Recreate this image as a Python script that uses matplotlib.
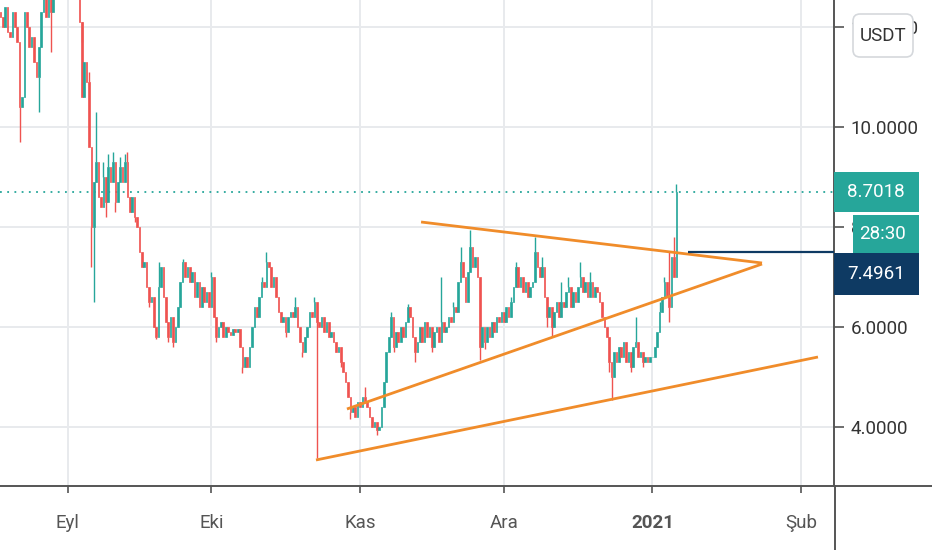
import numpy as np
import pandas as pd
import matplotlib
matplotlib.use('Agg')
import matplotlib.pyplot as plt
import matplotlib.dates as mdates
from matplotlib import font_manager
from matplotlib.patches import FancyBboxPatch, Rectangle
from matplotlib.lines import Line2D
from matplotlib.transforms import IdentityTransform

# 12h candles starting 18 Aug 2020
start = '2020-08-18'
first_open = 12.3
closes = [
    12.2, 12.0, 12.4, 11.9, 11.8, 12.3, 12.0, 11.7, 10.4, 10.6,
    12.3, 12.0, 11.6, 11.8, 11.3, 11.0, 11.6, 12.3, 12.7, 12.2,
    12.8, 12.3, 12.9, 13.3, 13.6, 13.9, 13.5, 14.0, 13.7, 13.4,
    13.8, 13.5, 13.2, 12.1, 10.6, 11.3, 10.9, 9.6, 8.0, 8.9,
    9.3, 8.6, 8.4, 9.0, 8.5, 9.2, 8.9, 9.3, 8.5, 8.9,
    9.2, 8.9, 9.3, 8.6, 8.3, 8.6, 8.2, 8.0, 7.5, 7.2,
    7.3, 6.8, 6.5, 6.6, 6.0, 5.8, 6.8, 7.2, 6.6, 6.1,
    5.8, 6.2, 5.7, 6.0, 6.4, 6.9, 7.3, 7.0, 7.2, 6.9,
    7.1, 6.6, 6.9, 6.4, 6.8, 6.5, 6.7, 6.4, 7.0, 6.2,
    5.8, 6.0, 6.1, 5.8, 6.0, 5.9, 5.85, 5.95, 5.9, 5.95,
    5.6, 5.2, 5.4, 5.2, 5.6, 6.0, 6.4, 6.2, 6.6, 6.9,
    6.8, 7.3, 7.2, 6.8, 7.0, 6.6, 6.3, 6.1, 6.2, 5.9,
    6.2, 6.3, 6.2, 6.4, 6.0, 5.7, 5.5, 5.8, 6.0, 6.3,
    6.2, 6.5, 6.1, 6.0, 6.2, 5.9, 6.1, 5.8, 5.9, 5.7,
    5.5, 5.6, 5.3, 5.1, 4.9, 4.6, 4.3, 4.4, 4.2, 4.5,
    4.4, 4.6, 4.5, 4.4, 4.2, 4.0, 4.1, 3.95, 4.0, 4.4,
    4.9, 5.5, 5.8, 6.2, 5.6, 5.9, 5.7, 6.0, 5.8, 6.1,
    6.4, 6.2, 5.8, 5.5, 5.7, 6.0, 5.7, 6.1, 5.8, 6.0,
    5.6, 5.9, 6.0, 5.7, 6.1, 5.9, 6.0, 6.2, 6.1, 6.4,
    6.3, 6.9, 7.3, 7.0, 6.5, 7.1, 7.6, 7.2, 7.4, 7.0,
    5.6, 6.0, 5.7, 6.0, 5.8, 6.1, 5.9, 6.2, 6.1, 6.3,
    6.1, 6.4, 6.2, 6.5, 6.8, 7.2, 6.8, 7.0, 6.7, 6.9,
    6.6, 6.8, 6.9, 7.5, 7.2, 7.0, 7.2, 6.6, 6.2, 6.4,
    6.0, 6.3, 6.5, 6.2, 6.5, 6.4, 6.7, 6.8, 6.4, 6.7,
    6.5, 6.8, 7.0, 6.7, 6.9, 6.6, 6.9, 6.6, 6.8, 6.7,
    6.5, 6.2, 6.0, 5.8, 5.3, 5.0, 5.5, 5.3, 5.6, 5.4,
    5.7, 5.3, 5.5, 5.2, 5.6, 5.7, 5.4, 5.5, 5.3, 5.4,
    5.3, 5.4, 5.4, 5.6, 5.9, 6.3, 6.6, 6.9, 6.6, 6.4,
    7.4, 7.0, 8.7018,
]
# visible wicks (candle index -> price)
wick_high = {34: 11.7, 37: 11.1, 40: 10.3, 43: 9.3, 45: 9.45, 47: 9.5, 50: 9.4,
             52: 9.45, 53: 9.5, 66: 7.3, 76: 7.35, 88: 7.1, 109: 7.0, 111: 7.5,
             123: 6.6, 131: 6.6, 152: 4.8, 163: 6.3, 170: 6.45, 184: 7.0, 189: 6.5,
             192: 7.6, 196: 7.94, 213: 6.6, 215: 7.3, 223: 7.8, 226: 7.4, 234: 6.9,
             237: 7.0, 242: 7.3, 246: 7.1, 265: 6.2, 275: 6.5, 277: 7.0, 279: 7.5,
             281: 7.8, 282: 8.85}
wick_low = {8: 9.7, 16: 10.3, 21: 11.5, 38: 7.2, 39: 6.5, 44: 8.2, 48: 8.3, 56: 8.1,
            62: 6.4, 65: 5.75, 70: 5.7, 72: 5.6, 90: 5.7, 101: 5.08, 119: 5.8,
            126: 5.4, 132: 3.38, 142: 5.2, 146: 4.15, 157: 3.84, 164: 5.5, 173: 5.3,
            180: 5.5, 200: 5.34, 202: 5.55, 228: 6.0, 230: 5.8, 254: 5.1, 255: 4.54,
            263: 5.1, 268: 5.2, 279: 6.1}

# drawn trend lines
trend_start = ['2020-11-13 18:00', '2020-10-29 07:00', '2020-10-22 20:00']
trend_start_price = [8.10, 4.36, 3.34]
trend_end = ['2021-01-23 21:00', '2021-01-23 21:00', '2021-02-04 13:00']
trend_end_price = [7.28, 7.26, 5.40]

last_price = 8.7018
ray_price = 7.4961
ray_start = '2021-01-08 10:00'
countdown = '28:30'

month_dates = ['2020-09-01', '2020-10-01', '2020-11-01', '2020-12-01', '2021-01-01', '2021-02-01']
month_labels = ['Eyl', 'Eki', 'Kas', 'Ara', '2021', 'Şub']
price_ticks = [4, 6, 8, 10, 12]

UP = '#26a69a'
DOWN = '#ef5350'
ORANGE = '#f08c2a'
NAVY = '#0e3a63'
W, H = 932, 550

try:
    font_manager.findfont('Liberation Sans Narrow', fallback_to_default=False)
    FONT, FS = 'Liberation Sans Narrow', 16.5
except ValueError:
    FONT, FS = 'Roboto', 13.5
plt.rcParams['font.family'] = [FONT, 'DejaVu Sans']

fig = plt.figure(figsize=(W / 100, H / 100), dpi=100)
ax = fig.add_axes([0, 64 / H, 834 / W, 486 / H])

# candles
t = mdates.date2num(pd.date_range(start, periods=len(closes), freq='12h'))
c = np.array(closes)
o = np.r_[first_open, c[:-1]]
col = np.where(c >= o, UP, DOWN)
lo_b = np.minimum(o, c)
hi_b = np.maximum(o, c)
ax.bar(t, hi_b - lo_b, bottom=lo_b, width=0.34, color=col, edgecolor=col,
       linewidth=0.5, zorder=3)
hi_i = list(wick_high)
ax.vlines(t[hi_i], hi_b[hi_i], [wick_high[i] for i in hi_i], colors=col[hi_i], lw=1, zorder=3)
lo_i = list(wick_low)
ax.vlines(t[lo_i], [wick_low[i] for i in lo_i], lo_b[lo_i], colors=col[lo_i], lw=1, zorder=3)

# trend lines
for x0, y0, x1, y1 in zip(trend_start, trend_start_price, trend_end, trend_end_price):
    ax.plot(mdates.date2num(pd.to_datetime([x0, x1])), [y0, y1], color=ORANGE, lw=2,
            solid_capstyle='butt', zorder=4)

left = mdates.date2num(pd.Timestamp('2020-09-01')) - 67.5 / 4.794
right = mdates.date2num(pd.Timestamp('2021-02-01')) + 33 / 4.794
ax.set_xlim(left, right)
ax.set_ylim(2.82, 12.54)

ax.axhline(last_price, color=UP, lw=1.3, ls=(0, (1, 3)), zorder=2)
ax.hlines(ray_price, mdates.date2num(pd.Timestamp(ray_start)), right, color=NAVY, lw=1.6, zorder=4)

# axes look
ax.set_xticks(mdates.date2num(pd.to_datetime(month_dates)))
ax.set_xticklabels(month_labels)
ax.get_xticklabels()[4].set_fontweight('bold')
ax.get_xticklabels()[4].set_color('#333333')
ax.tick_params(axis='x', length=5, width=1.2, color='#555555', pad=15,
               labelsize=FS, labelcolor='#555555')
ax.yaxis.tick_right()
ax.set_yticks(price_ticks)
ax.set_yticklabels([f'{v:.4f}' for v in price_ticks])
ax.tick_params(axis='y', length=7, width=1.2, color='#555555', pad=5,
               labelsize=FS, labelcolor='#333333')
ax.grid(color='#e8eaed', lw=1.4, zorder=0)
ax.set_axisbelow(True)
for side in ['top', 'left']:
    ax.spines[side].set_visible(False)
for side in ['right', 'bottom']:
    ax.spines[side].set_color('#555555')
    ax.spines[side].set_linewidth(1.4)

pix = IdentityTransform()
fig.add_artist(Line2D([834, W], [64, 64], transform=pix, color='#555555', lw=1.4))
fig.add_artist(Line2D([834.5, 834.5], [0, 64], transform=pix, color='#555555', lw=1.4))

# price labels on the right scale
def box(x0, y0, x1, y1, color):
    fig.add_artist(Rectangle((x0, H - y1), x1 - x0, y1 - y0, transform=pix,
                             facecolor=color, edgecolor='none', zorder=5))

box(834, 172, 919, 212, UP)
fig.text(847, H - 192, f'{last_price:.4f}', transform=pix, color='white', fontsize=FS,
         va='center', ha='left', zorder=6)
box(853, 215, 919, 253, UP)
fig.text(859, H - 234, countdown, transform=pix, color='white', fontsize=FS,
         va='center', ha='left', zorder=6)
box(834, 253, 919, 295, NAVY)
fig.text(847, H - 274, f'{ray_price:.4f}', transform=pix, color='white', fontsize=FS,
         va='center', ha='left', zorder=6)

# currency button
fig.add_artist(FancyBboxPatch((853, H - 57), 60, 43, transform=pix,
                              boxstyle='round,pad=0,rounding_size=7',
                              facecolor='white', edgecolor='#d5d8dc', lw=1.2, zorder=5))
fig.text(883, H - 36, 'USDT', transform=pix, color='#333333', fontsize=FS,
         va='center', ha='center', zorder=6)

fig.savefig('out.png', dpi=100)
